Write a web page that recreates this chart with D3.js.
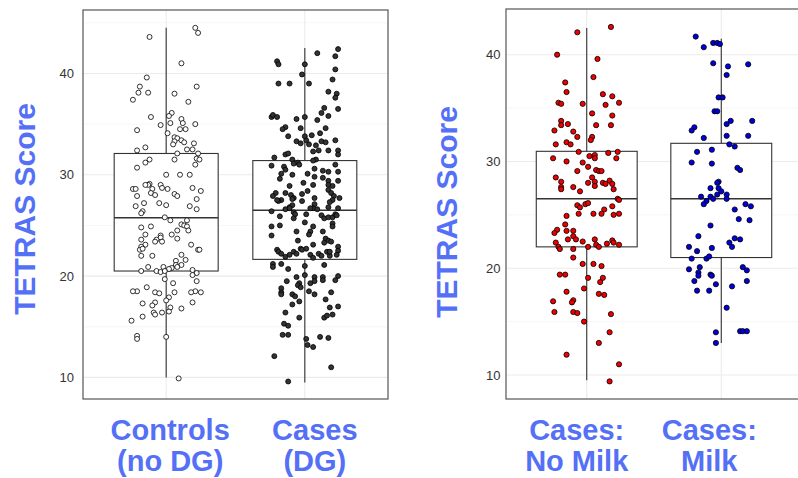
<!DOCTYPE html>
<html><head><meta charset="utf-8">
<script src="https://cdn.jsdelivr.net/npm/d3@7"></script>
<style>html,body{margin:0;padding:0;background:#fff;}svg{display:block;}</style>
</head><body>
<svg id="chart" width="798" height="478"></svg>
<script>
// ---- DATA ----
const leftCategories = ["Controls (no DG)", "Cases (DG)"];
const rightCategories = ["Cases: No Milk", "Cases: Milk"];
const yTicks = [10, 20, 30, 40];
const yMinorTicks = [15, 25, 35, 45];
const axisTitle = "TETRAS Score";
const leftLabels = [["Controls", "(no DG)"], ["Cases", "(DG)"]];
const rightLabels = [["Cases:", "No Milk"], ["Cases:", "Milk"]];

// box stats: [lower whisker, Q1, median, Q3, upper whisker]
const controlsBox = [10.0, 20.5, 25.75, 32.1, 44.5];
const casesBox = [9.5, 21.65, 26.5, 31.4, 42.5];
const noMilkBox = [9.5, 22.0, 26.5, 30.95, 42.5];
const milkBox = [13.0, 21.0, 26.5, 31.7, 41.5];

// points: [score, horizontal jitter (category units)]
const controlsPts = [[43.6,-0.12],[44.5,0.21],[44.0,0.23],[41.0,0.11],[39.6,-0.14],[38.7,0.22],[38.7,-0.19],[38.1,-0.20],[38.1,-0.13],[38.0,0.06],[37.4,-0.24],[37.2,0.16],[35.7,-0.11],[36.1,0.04],[35.8,0.02],[35.5,0.11],[35.1,0.03],[35.1,0.12],[35.0,0.21],[34.9,-0.04],[34.4,-0.21],[34.5,0.10],[34.5,0.14],[34.1,0.01],[33.7,0.06],[33.6,0.08],[33.4,0.11],[33.3,0.06],[33.2,0.13],[33.1,0.20],[33.0,0.05],[32.7,-0.15],[32.4,-0.21],[32.5,0.15],[32.5,0.19],[32.1,0.08],[32.1,0.23],[31.6,0.22],[31.5,0.24],[31.5,-0.12],[31.5,0.06],[31.2,-0.15],[31.0,0.21],[30.7,-0.21],[30.0,0.0],[30.0,0.10],[30.0,0.17],[28.6,-0.24],[28.6,-0.22],[29.1,-0.12],[29.0,-0.13],[29.0,-0.15],[28.6,-0.10],[29.0,-0.04],[28.7,-0.03],[28.6,0.01],[28.7,0.19],[28.4,0.25],[28.2,-0.11],[28.0,-0.08],[27.9,-0.21],[28.1,0.06],[27.9,0.08],[27.6,0.22],
[26.9,-0.22],[27.2,-0.16],[26.4,-0.17],[26.2,-0.18],[27.2,-0.05],[27.0,0.0],[26.9,0.17],[26.6,0.22],[25.8,-0.01],[25.5,0.03],[25.1,0.11],[25.0,0.13],[25.5,0.15],[24.9,0.15],[24.5,0.16],[24.5,0.08],[24.1,0.04],[23.7,0.08],[24.8,-0.18],[24.9,-0.11],[24.1,-0.15],[24.0,-0.04],[23.8,-0.04],[23.6,-0.07],[23.4,-0.08],[23.4,-0.03],[23.6,-0.18],[23.1,-0.15],[22.9,-0.18],[22.6,-0.19],[22.7,-0.17],[22.0,-0.18],[22.0,-0.10],[23.1,0.18],[22.6,0.23],[22.6,0.24],[22.1,0.11],[21.6,0.14],[21.5,0.07],[21.1,0.07],[21.1,0.11],[20.9,0.08],[20.8,0.04],[20.7,0.02],[20.9,-0.02],[20.9,-0.13],[20.5,-0.18],[20.5,-0.07],[20.4,-0.04],[20.5,-0.01],[20.6,0.19],[20.3,0.22],[20.1,0.19],
[18.5,-0.21],[18.9,-0.14],[18.4,-0.08],[18.3,-0.05],[18.5,-0.24],[18.4,0.06],[19.7,-0.01],[19.3,0.05],[19.5,0.22],[18.4,0.25],[18.5,0.21],[18.4,0.18],[17.4,0.19],[17.9,0.02],[17.6,0.0],[17.3,-0.17],[17.4,-0.08],[17.1,-0.10],[16.9,0.03],[16.5,0.02],[16.8,0.11],[16.4,-0.09],[16.2,-0.08],[16.4,-0.03],[16.0,-0.17],[15.6,-0.25],[14.1,-0.21],[13.8,-0.21],[14.0,0.0],[9.9,0.09]];

const casesPts = [[42.4,0.24],[42.0,0.09],[41.7,0.22],[41.2,-0.20],[40.9,-0.19],[40.9,0.0],[40.4,0.22],[39.9,-0.02],[39.4,0.20],[39.0,-0.19],[39.0,-0.11],[39.0,0.03],[38.2,0.17],[38.0,0.23],[37.6,0.22],[36.6,0.14],[36.5,0.24],[36.1,0.12],[35.8,0.17],[35.7,-0.24],[35.9,-0.23],[35.7,-0.20],[35.5,-0.06],[35.7,0.0],[35.4,0.09],[34.7,-0.14],[34.5,-0.16],[34.6,-0.03],[34.6,0.15],[34.1,0.11],[33.8,-0.12],[33.8,0.0],[33.9,0.05],[33.4,0.01],[33.4,0.22],[33.3,-0.06],[33.1,-0.03],[33.0,0.03],[32.9,0.08],[33.3,0.12],[33.2,0.15],[32.3,0.06],[32.4,0.10],[32.4,0.17],[32.4,0.24],[32.0,0.24],[32.0,-0.14],[32.1,-0.12],[31.7,-0.22],[31.5,-0.09],[31.2,-0.05],[31.5,0.08],[31.4,0.06],[30.9,-0.24],[30.8,-0.15],[31.1,-0.08],[31.0,-0.04],[31.0,0.22],[30.5,-0.14],[30.6,0.07],[30.4,0.13],[30.3,0.17],[30.3,0.24],[30.1,-0.17],[29.6,-0.18],[30.0,-0.09],[30.1,0.02],[29.7,0.13],[29.8,0.07],[29.4,0.24],[29.4,0.17],[29.2,-0.01],[29.0,0.06],[29.0,0.17],[28.9,0.20],[28.9,-0.11],[28.4,0.02],[28.5,0.17],[28.2,0.19],[28.2,-0.21],[27.9,-0.23],[28.2,-0.14],[28.0,-0.10],[27.7,-0.08],[28.1,-0.02],[27.7,0.07],[27.9,0.21],[27.7,0.25],
[27.5,-0.17],[27.4,-0.19],[27.5,-0.20],[27.4,-0.02],[27.6,-0.09],[27.5,0.20],[27.3,0.18],[26.8,0.17],[26.7,0.24],[26.8,-0.11],[27.0,-0.09],[27.1,0.07],[26.7,0.06],[26.4,-0.24],[26.6,-0.14],[26.7,-0.11],[26.3,-0.08],[26.1,-0.07],[25.7,-0.08],[25.9,-0.18],[26.1,0.01],[26.7,0.04],[26.6,0.09],[26.0,0.12],[25.7,0.14],[25.8,0.17],[25.8,0.20],[26.1,0.22],[26.0,0.23],[25.2,0.20],[24.9,0.20],[24.9,-0.24],[25.0,-0.18],[25.3,0.0],[24.9,0.06],[24.4,0.04],[24.1,0.03],[24.4,-0.06],[24.0,-0.24],[24.4,0.13],[23.5,-0.05],[23.1,0.06],[23.7,0.15],[23.5,0.17],[23.3,0.14],[23.4,0.19],[22.9,0.24],[22.5,0.24],[22.6,-0.20],[22.4,-0.19],[22.2,-0.17],[21.9,-0.14],[22.1,-0.11],[22.4,-0.08],[22.2,-0.06],[22.7,-0.03],[22.6,-0.02],[22.7,0.01],[22.1,0.04],[21.8,0.06],[22.2,0.10],[22.0,0.12],[22.4,0.16],[22.0,0.18],[22.1,0.23],[22.4,0.18],
[21.2,-0.23],[20.9,-0.23],[21.2,-0.17],[20.7,-0.12],[21.0,0.0],[21.1,0.14],[19.9,-0.06],[20.1,0.0],[19.9,0.07],[19.9,0.13],[20.0,0.24],[19.5,-0.13],[19.3,-0.04],[19.1,-0.05],[18.9,-0.03],[19.3,0.04],[19.5,0.07],[19.6,0.13],[19.6,0.22],[18.8,-0.17],[18.4,-0.17],[18.2,-0.17],[18.2,-0.09],[18.0,-0.07],[18.5,0.03],[18.2,0.07],[18.4,0.19],[17.7,0.15],[17.5,-0.04],[17.2,-0.09],[17.0,0.24],[16.9,0.18],[16.4,-0.14],[16.2,0.20],[15.9,0.14],[16.1,0.16],[15.9,-0.04],[15.3,-0.15],[15.1,-0.12],[14.2,-0.16],[14.2,-0.12],[13.8,0.01],[13.2,0.02],[13.0,0.06],[14.0,0.11],[13.9,0.17],[12.1,-0.22],[11.0,0.19],[9.6,-0.12]];

const noMilkPts = [[42.6,0.18],[42.1,-0.07],[40.0,-0.22],[39.6,0.08],[37.9,0.05],[37.4,-0.16],[36.5,-0.15],[36.3,0.12],[36.1,0.19],[35.5,-0.21],[35.4,-0.19],[35.4,-0.03],[35.3,0.14],[35.5,0.24],[34.5,0.04],[34.3,0.19],[33.8,-0.19],[33.4,-0.19],[33.5,-0.14],[33.4,0.07],[33.4,0.18],[32.9,-0.24],[32.8,-0.10],[32.3,-0.07],[32.3,0.04],[32.0,0.03],[31.8,-0.15],[31.6,-0.12],[31.6,-0.23],[30.9,-0.06],[30.8,0.16],[30.9,0.23],[30.5,0.02],[30.6,0.06],[30.3,0.06],[30.3,-0.25],[30.3,0.22],[30.0,-0.15],[29.9,-0.03],[29.5,0.01],[29.1,-0.07],[29.2,0.07],[29.1,0.09],[29.1,0.11],[28.5,-0.23],[28.5,0.04],[28.1,-0.19],[28.0,0.01],[28.1,0.06],[28.0,0.12],[27.9,0.14],[28.2,0.17],[27.9,0.19],[27.6,-0.19],[27.4,-0.19],[27.6,-0.10],[27.7,0.06],[27.2,-0.05],[27.4,0.20],[26.5,0.23],
[26.4,0.24],[25.9,-0.07],[25.7,-0.05],[26.0,-0.01],[26.1,0.01],[25.5,0.13],[25.8,0.19],[25.1,-0.06],[25.1,0.05],[25.1,0.11],[25.0,0.20],[25.1,0.24],[24.9,-0.15],[24.1,-0.16],[23.6,-0.22],[23.3,-0.24],[23.5,-0.15],[23.5,-0.10],[23.0,-0.10],[22.7,-0.08],[22.5,-0.03],[22.7,0.06],[22.6,0.19],[22.4,0.20],[22.4,-0.23],[22.7,-0.14],[22.0,-0.21],[21.8,-0.20],[21.8,-0.10],[22.0,0.01],[22.2,0.07],[22.0,0.09],[22.3,0.15],[22.2,0.24],[21.0,-0.10],[20.4,-0.03],[20.4,0.05],[20.2,0.11],[19.4,-0.20],[19.4,-0.16],[19.1,0.01],[19.1,0.12],
[18.7,0.10],[18.1,-0.02],[17.8,-0.15],[17.6,0.09],[17.5,0.13],[16.9,-0.25],[17.0,-0.10],[16.8,-0.11],[15.9,-0.24],[15.9,-0.10],[15.8,-0.07],[15.7,0.18],[15.0,-0.02],[14.0,0.17],[13.0,0.09],[11.9,-0.15],[11.0,0.24],[9.4,0.17]];

const milkPts = [[41.7,-0.19],[40.7,-0.13],[41.1,-0.06],[41.1,-0.03],[41.0,-0.01],[39.2,-0.06],[38.9,0.05],[39.1,0.20],[38.1,0.04],[36.0,-0.02],[36.0,0.01],[34.7,-0.05],[34.7,-0.03],[33.8,0.07],[33.5,0.04],[33.8,0.23],[33.2,-0.20],[32.9,-0.22],[32.4,0.04],[32.4,0.20],[32.2,-0.13],[31.6,0.06],[31.4,0.10],[31.1,-0.07],[30.9,-0.18],[29.9,-0.22],[29.8,-0.07],[29.4,0.12],[29.2,0.14],[28.1,-0.02],[28.0,-0.03],
[27.5,-0.08],[27.5,-0.02],[27.2,0.0],[26.9,0.04],[26.9,-0.03],[26.7,-0.08],[26.7,-0.15],[26.3,-0.11],[26.5,-0.06],[26.5,0.04],[25.5,0.10],[26.0,0.18],[25.8,0.22],[26.0,-0.13],[24.6,0.13],[24.5,0.21],[24.0,-0.08],[23.0,-0.17],[22.8,0.10],[22.7,0.14],[22.4,0.06],[22.0,0.08],[22.0,-0.24],[21.6,-0.18],[21.9,-0.07],[20.9,-0.22],[20.9,-0.11],[21.1,-0.09],[19.9,-0.24],[20.1,-0.16],[19.6,-0.17],[19.3,-0.17],[19.4,-0.08],[19.3,-0.07],[20.1,0.16],[19.8,0.19],
[18.8,-0.20],[18.5,-0.04],[18.3,0.08],[18.8,0.19],[17.9,-0.18],[17.9,-0.09],[16.3,0.04],[14.0,-0.04],[13.0,-0.04],[14.1,0.14],[14.1,0.16],[14.1,0.19]];

// ---- LAYOUT ----
const svg = d3.select("#chart");
const blue = "#5470f6";
const font = "'Liberation Sans', Arial, Helvetica, sans-serif";

const panels = [
  {x0: 83, x1: 388, y0: 10, y1: 399, domain: [7.87, 46.26], cats: leftCategories,
   boxes: [controlsBox, casesBox], pts: [controlsPts, casesPts],
   fills: ["#ffffff", "#333333"], r: 2.5, tickX: 74, titleX: 35, titleY: 209,
   labels: leftLabels, labelDx: [4, 10]},
  {x0: 506, x1: 802, y0: 9, y1: 399, domain: [7.75, 44.28], cats: rightCategories,
   boxes: [noMilkBox, milkBox], pts: [noMilkPts, milkPts],
   fills: ["#ee0000", "#0000dd"], r: 2.6, tickX: 500.5, titleX: 457, titleY: 212,
   labels: rightLabels, labelDx: [-10, -12]}
];

panels.forEach(p => {
  const x = d3.scalePoint().domain(p.cats).range([p.x0, p.x1]).padding(0.6);
  const step = x.step();
  const y = d3.scaleLinear().domain(p.domain).range([p.y1, p.y0]);
  const g = svg.append("g");

  g.append("rect").attr("x", p.x0).attr("y", p.y0).attr("width", p.x1 - p.x0).attr("height", p.y1 - p.y0).attr("fill", "#fff");

  g.selectAll(".minor").data(yMinorTicks.filter(t => t > p.domain[0] && t < p.domain[1])).enter().append("line")
    .attr("x1", p.x0).attr("x2", p.x1).attr("y1", d => y(d)).attr("y2", d => y(d))
    .attr("stroke", "#f2f2f2").attr("stroke-width", 0.7);
  g.selectAll(".major").data(yTicks).enter().append("line")
    .attr("x1", p.x0).attr("x2", p.x1).attr("y1", d => y(d)).attr("y2", d => y(d))
    .attr("stroke", "#ebebeb").attr("stroke-width", 1.1);
  g.selectAll(".vgrid").data(p.cats).enter().append("line")
    .attr("x1", d => x(d)).attr("x2", d => x(d)).attr("y1", p.y0).attr("y2", p.y1)
    .attr("stroke", "#ebebeb").attr("stroke-width", 1.1);

  p.cats.forEach((c, i) => {
    const b = p.boxes[i];
    const cx = x(c), hw = step * 0.375;
    g.append("line").attr("x1", cx).attr("x2", cx).attr("y1", y(b[0])).attr("y2", y(b[4]))
      .attr("stroke", "#333").attr("stroke-width", 1.1);
    g.append("rect").attr("x", cx - hw).attr("width", 2 * hw).attr("y", y(b[3])).attr("height", y(b[1]) - y(b[3]))
      .attr("fill", "#fff").attr("stroke", "#333").attr("stroke-width", 1.1);
    g.append("line").attr("x1", cx - hw).attr("x2", cx + hw).attr("y1", y(b[2])).attr("y2", y(b[2]))
      .attr("stroke", "#333").attr("stroke-width", 1.6);
  });

  p.cats.forEach((c, i) => {
    g.selectAll(".pt" + i).data(p.pts[i]).enter().append("circle")
      .attr("cx", d => x(c) + d[1] * step).attr("cy", d => y(d[0])).attr("r", p.r)
      .attr("fill", p.fills[i]).attr("stroke", "#000").attr("stroke-width", 0.8);
  });

  g.append("rect").attr("x", p.x0).attr("y", p.y0).attr("width", p.x1 - p.x0).attr("height", p.y1 - p.y0)
    .attr("fill", "none").attr("stroke", "#555").attr("stroke-width", 1.2);

  g.selectAll(".tick").data(yTicks).enter().append("text")
    .attr("x", p.tickX).attr("y", d => y(d)).attr("dy", "0.36em").attr("text-anchor", "end")
    .attr("font-family", font).attr("font-size", 13).attr("fill", "#333").text(d => d);

  g.append("text").attr("transform", `translate(${p.titleX},${p.titleY}) rotate(-90)`)
    .attr("text-anchor", "middle").attr("font-family", font).attr("font-weight", "bold")
    .attr("font-size", 30).attr("fill", blue).text(axisTitle);

  p.cats.forEach((c, i) => {
    const t = g.append("text").attr("text-anchor", "middle").attr("font-family", font)
      .attr("font-weight", "bold").attr("font-size", 29).attr("fill", blue);
    p.labels[i].forEach((line, k) => {
      t.append("tspan").attr("x", x(c) + p.labelDx[i]).attr("y", 440 + k * 31).text(line);
    });
  });
});
</script>
</body></html>
